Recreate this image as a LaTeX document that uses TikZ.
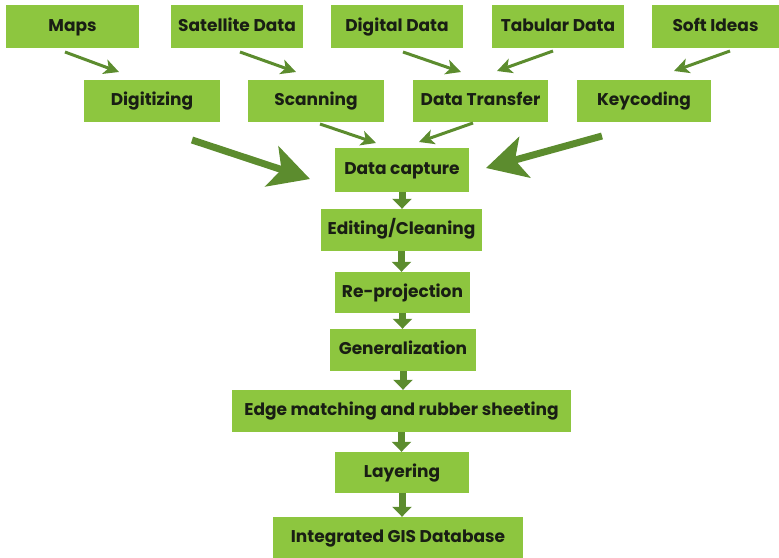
\documentclass[tikz,border=0pt]{standalone}
\usepackage{fontspec}
\setmainfont{Poppins}
\usetikzlibrary{arrows.meta}
\definecolor{boxgreen}{RGB}{141,198,63}
\definecolor{arrowgreen}{RGB}{92,140,46}
\definecolor{txt}{RGB}{25,30,20}
\begin{document}
\begin{tikzpicture}[x=1pt,y=-1pt,
  box/.style={rectangle, fill=boxgreen, inner sep=0pt, text=txt,
     text height=12pt, text depth=3pt,
     font=\fontsize{17}{19}\selectfont\bfseries},
  thin arrow/.style={draw=arrowgreen, line width=3pt,
     -{Stealth[length=15pt,width=15pt,inset=4pt]}, arrowgreen},
  big arrow/.style={draw=arrowgreen, line width=7pt,
     -{Stealth[length=40pt,width=42pt,inset=10pt]}, arrowgreen},
  down arrow/.style={draw=arrowgreen, line width=7pt,
     -{Triangle[length=10pt,width=19pt]}, arrowgreen}]
\useasboundingbox (0,0) rectangle (779,557);
% top row
\node[box, minimum width=133, minimum height=43] (maps) at (72.5,26.5) {Maps};
\node[box, minimum width=132, minimum height=43] (sat) at (237,26.5) {Satellite Data};
\node[box, minimum width=132, minimum height=43] (dig) at (397,26.5) {Digital Data};
\node[box, minimum width=132, minimum height=43] (tab) at (558,26.5) {Tabular Data};
\node[box, minimum width=127, minimum height=43] (soft) at (715.5,26.5) {Soft Ideas};
% second row
\node[box, minimum width=136, minimum height=42] (digi) at (152,101) {Digitizing};
\node[box, minimum width=136, minimum height=42] (scan) at (316,101) {Scanning};
\node[box, minimum width=135, minimum height=42] (dt) at (480.5,101) {Data Transfer};
\node[box, minimum width=134, minimum height=42] (key) at (644,101) {Keycoding};
% central column
\node[box, minimum width=134, minimum height=44] (dc) at (402,170) {Data capture};
\node[box, minimum width=161, minimum height=42] (edit) at (401.5,230) {Editing/Cleaning};
\node[box, minimum width=135, minimum height=41] (rep) at (402.5,292.5) {Re-projection};
\node[box, minimum width=146, minimum height=42] (gen) at (403,350) {Generalization};
\node[box, minimum width=339, minimum height=42] (edge) at (401.5,411) {Edge matching and rubber sheeting};
\node[box, minimum width=134, minimum height=41] (lay) at (402,472.5) {Layering};
\node[box, minimum width=250, minimum height=42] (gis) at (398,538) {Integrated GIS Database};
% arrow end points
\coordinate (m1) at (65,52);  \coordinate (m2) at (119,72);
\coordinate (s1) at (240,52); \coordinate (s2) at (296,72);
\coordinate (d1) at (403,52); \coordinate (d2) at (461,72);
\coordinate (t1) at (553,51); \coordinate (t2) at (497,71);
\coordinate (f1) at (730,51); \coordinate (f2) at (674,71);
\coordinate (sc1) at (320,124); \coordinate (sc2) at (376,143);
\coordinate (dt1) at (473,123); \coordinate (dt2) at (419,142);
\coordinate (g1) at (192,140); \coordinate (g2) at (310,179);
\coordinate (k1) at (602,136); \coordinate (k2) at (486,168);
\draw[thin arrow] (m1) -- (m2);
\draw[thin arrow] (s1) -- (s2);
\draw[thin arrow] (d1) -- (d2);
\draw[thin arrow] (t1) -- (t2);
\draw[thin arrow] (f1) -- (f2);
\draw[thin arrow] (sc1) -- (sc2);
\draw[thin arrow] (dt1) -- (dt2);
\draw[big arrow] (g1) -- (g2);
\draw[big arrow] (k1) -- (k2);
% vertical arrows
\draw[down arrow] (dc.south) -- (dc.south |- edit.north);
\draw[down arrow] (edit.south) -- (edit.south |- rep.north);
\draw[down arrow] (rep.south) -- (rep.south |- gen.north);
\draw[down arrow] (gen.south) -- (gen.south |- edge.north);
\draw[down arrow] (edge.south) -- (edge.south |- lay.north);
\draw[down arrow] (lay.south) -- (lay.south |- gis.north);
\end{tikzpicture}
\end{document}
